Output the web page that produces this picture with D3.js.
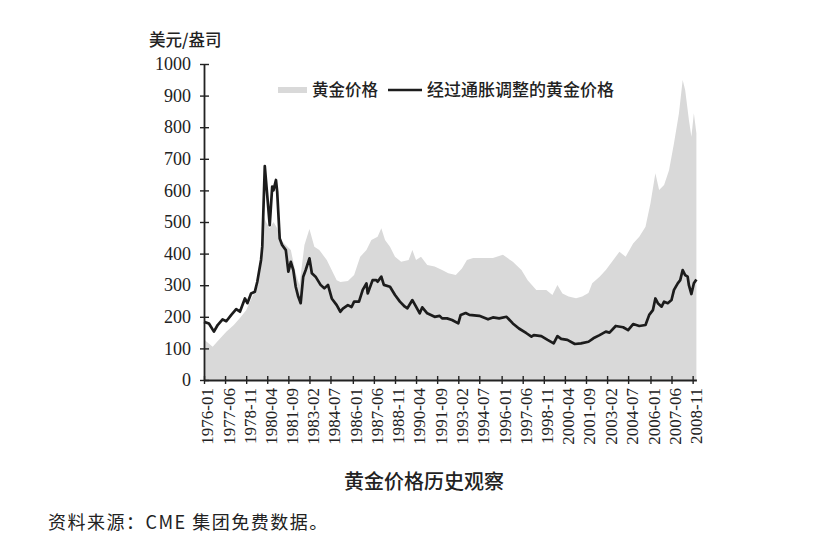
<!DOCTYPE html>
<html>
<head>
<meta charset="utf-8">
<script src="https://cdn.jsdelivr.net/npm/d3@7"></script>
<style>
  body { margin: 0; background: #fff; }
  .num { font-family: "Liberation Serif", "Times New Roman", serif; }
  .cjk { font-family: "Noto Sans CJK SC", sans-serif; }
</style>
</head>
<body>
<script>
let goldDates = ["1976-01","1976-08","1977-01","1977-07","1978-01","1978-06","1978-11","1979-04","1979-08","1979-11",
  "1979-12","1980-01","1980-03","1980-06","1980-09","1980-12","1981-03","1981-07","1981-11","1982-03",
  "1982-06","1982-10","1983-02","1983-06","1983-10","1984-04","1984-12","1985-03","1985-09","1986-02",
  "1986-07","1986-12","1987-04","1987-09","1987-12","1988-03","1988-07","1988-11","1989-04","1989-10",
  "1990-01","1990-04","1990-08","1991-01","1991-07","1992-01","1992-06","1992-12","1993-05","1993-09",
  "1994-02","1994-10","1995-06","1996-02","1996-10","1997-05","1997-10","1998-05","1999-01","1999-06",
  "1999-10","2000-02","2000-07","2001-01","2001-06","2001-11","2002-02","2002-08","2003-01","2003-06",
  "2003-12","2004-05","2004-11","2005-04","2005-09","2006-01","2006-05","2006-08","2006-12","2007-04",
  "2007-08","2007-12","2008-03","2008-05","2008-08","2008-10","2008-12","2009-02"]
let goldPrice = [128,105,127,153,174,196,221,264,295,364,
  430,520,500,480,500,480,443,427,411,338,
  300,427,478,422,411,380,316,310,313,332,
  390,411,443,453,480,443,422,390,374,380,
  411,380,390,364,359,348,338,332,353,380,
  386,386,386,396,374,348,316,285,285,269,
  301,274,264,259,264,275,306,327,348,374,
  406,390,432,453,485,559,654,601,617,664,
  749,844,949,918,823,770,844,781]

let realDates = ["1976-01","1976-05","1976-09","1976-12","1977-04","1977-07","1977-11","1978-03","1978-06","1978-10",
  "1978-12","1979-03","1979-06","1979-08","1979-11","1979-12","1980-02","1980-06","1980-08","1980-09",
  "1980-11","1980-12","1981-02","1981-04","1981-07","1981-09","1981-11","1982-01","1982-03","1982-05",
  "1982-07","1982-09","1982-11","1983-02","1983-04","1983-07","1983-11","1984-02","1984-05","1984-08",
  "1984-12","1985-03","1985-05","1985-09","1985-12","1986-02","1986-06","1986-09","1986-12","1987-01",
  "1987-05","1987-08","1987-09","1987-12","1988-02","1988-07","1988-11","1989-03","1989-07","1989-09",
  "1990-01","1990-04","1990-07","1990-09","1991-01","1991-07","1991-11","1992-01","1992-05","1992-09",
  "1993-02","1993-04","1993-08","1993-11","1994-07","1995-02","1995-06","1995-11","1996-05","1996-10",
  "1997-03","1997-09","1998-01","1998-03","1998-09","1999-02","1999-07","1999-10","2000-01","2000-06",
  "2000-12","2001-05","2001-11","2002-03","2002-08","2003-01","2003-04","2003-09","2004-03","2004-07",
  "2004-11","2005-04","2005-09","2005-12","2006-03","2006-05","2006-07","2006-10","2006-12","2007-03",
  "2007-06","2007-08","2007-11","2008-01","2008-03","2008-05","2008-07","2008-08","2008-10","2008-12",
  "2009-02"]
let realPrice = [184,179,153,174,192,186,206,224,216,258,
  243,274,279,311,380,422,677,490,612,600,
  633,596,448,427,411,343,374,348,295,264,
  243,327,348,385,338,327,301,290,301,258,
  237,216,226,237,231,248,248,285,306,274,
  316,316,311,327,301,295,269,248,232,227,
  253,232,211,230,211,200,203,195,195,190,
  179,206,212,206,203,192,198,195,200,179,
  163,148,137,142,139,127,116,139,130,127,
  114,116,121,132,142,153,150,171,167,158,
  177,171,174,206,221,258,243,232,248,243,
  253,285,306,316,348,332,327,300,272,306,
  318]

let xTickLabels = ["1976-01","1977-06","1978-11","1980-04","1981-09","1983-02","1984-07","1986-01",
  "1987-06","1988-11","1990-04","1991-09","1993-02","1994-07","1996-01","1997-06",
  "1998-11","2000-04","2001-09","2003-02","2004-07","2006-01","2007-06","2008-11"]
let yTicks = [0,100,200,300,400,500,600,700,800,900,1000]

let w = 836
let h = 555
let marginLeft = 204
let marginTop = 64
let plotW = 492.4
let plotH = 316

let parse = d3.timeParse("%Y-%m")

let svg = d3.select("body").append("svg")
  .attr("width", w)
  .attr("height", h)

let x = d3.scaleTime()
  .domain([parse("1976-01"), parse("2009-02")])
  .range([0, plotW])

let y = d3.scaleLinear()
  .domain([0, 1000])
  .range([plotH, 0])

let g = svg.append("g")
  .attr("transform", "translate(" + marginLeft + "," + marginTop + ")")

let gold = goldDates.map((d, i) => ({date: parse(d), value: goldPrice[i]}))
let real = realDates.map((d, i) => ({date: parse(d), value: realPrice[i]}))

let area = d3.area()
  .x(d => x(d.date))
  .y0(y(0))
  .y1(d => y(d.value))

g.append("path")
  .datum(gold)
  .attr("d", area)
  .attr("fill", "#d9d9d9")

let line = d3.line()
  .x(d => x(d.date))
  .y(d => y(d.value))

g.append("path")
  .datum(real)
  .attr("d", line)
  .attr("fill", "none")
  .attr("stroke", "#1c1c1c")
  .attr("stroke-width", 2.7)
  .attr("stroke-linejoin", "round")

// axes
let xAxis = d3.axisBottom(x)
  .tickValues(xTickLabels.map(parse))
  .tickFormat(d3.timeFormat("%Y-%m"))
  .tickSize(4)
  .tickSizeOuter(0)

let xg = g.append("g")
  .attr("transform", "translate(0," + plotH + ")")
  .call(xAxis)

xg.selectAll(".tick line").attr("y1", -4).attr("stroke-width", 1.4)
xg.selectAll(".tick text")
  .attr("class", "num")
  .attr("transform", "rotate(-90)")
  .attr("text-anchor", "end")
  .attr("x", -8)
  .attr("y", 3)
  .attr("dy", "0.35em")
  .attr("font-size", 17)
  .attr("fill", "#222")

let yAxis = d3.axisLeft(y)
  .tickValues(yTicks)
  .tickFormat(d3.format("d"))
  .tickSize(4)
  .tickSizeOuter(0)

let yg = g.append("g").call(yAxis)
yg.selectAll(".tick line").attr("x1", 5).attr("stroke-width", 1.4)
yg.selectAll(".tick text")
  .attr("class", "num")
  .attr("x", -13)
  .attr("font-size", 18)
  .attr("fill", "#222")

svg.selectAll(".domain").attr("stroke", "#222").attr("stroke-width", 1.8)
svg.selectAll(".tick line").attr("stroke", "#222")

// legend
let legend = svg.append("g")

legend.append("rect")
  .attr("x", 278)
  .attr("y", 87)
  .attr("width", 29)
  .attr("height", 6)
  .attr("fill", "#d9d9d9")

legend.append("text")
  .text("黄金价格")
  .attr("class", "cjk")
  .attr("x", 312)
  .attr("y", 90)
  .attr("dy", "0.35em")
  .attr("font-size", 16.5)
  .attr("font-weight", 500)
  .attr("fill", "#222")

legend.append("line")
  .attr("x1", 388)
  .attr("x2", 422)
  .attr("y1", 90)
  .attr("y2", 90)
  .attr("stroke", "#1c1c1c")
  .attr("stroke-width", 2.7)

legend.append("text")
  .text("经过通胀调整的黄金价格")
  .attr("class", "cjk")
  .attr("x", 427)
  .attr("y", 90)
  .attr("dy", "0.35em")
  .attr("font-size", 17)
  .attr("font-weight", 500)
  .attr("fill", "#222")

svg.append("text")
  .text("美元/盎司")
  .attr("class", "cjk")
  .attr("x", 149)
  .attr("y", 40)
  .attr("dy", "0.35em")
  .attr("font-size", 16.5)
  .attr("font-weight", 500)
  .attr("fill", "#222")

svg.append("text")
  .text("黄金价格历史观察")
  .attr("class", "cjk")
  .attr("x", 424)
  .attr("y", 482)
  .attr("dy", "0.35em")
  .attr("text-anchor", "middle")
  .attr("font-size", 20)
  .attr("font-weight", 500)
  .attr("fill", "#222")

svg.append("text")
  .text("资料来源：CME 集团免费数据。")
  .attr("class", "cjk")
  .attr("x", 48)
  .attr("y", 523)
  .attr("dy", "0.35em")
  .attr("font-size", 18)
  .attr("letter-spacing", 1.5)
  .attr("fill", "#222")
</script>
</body>
</html>
